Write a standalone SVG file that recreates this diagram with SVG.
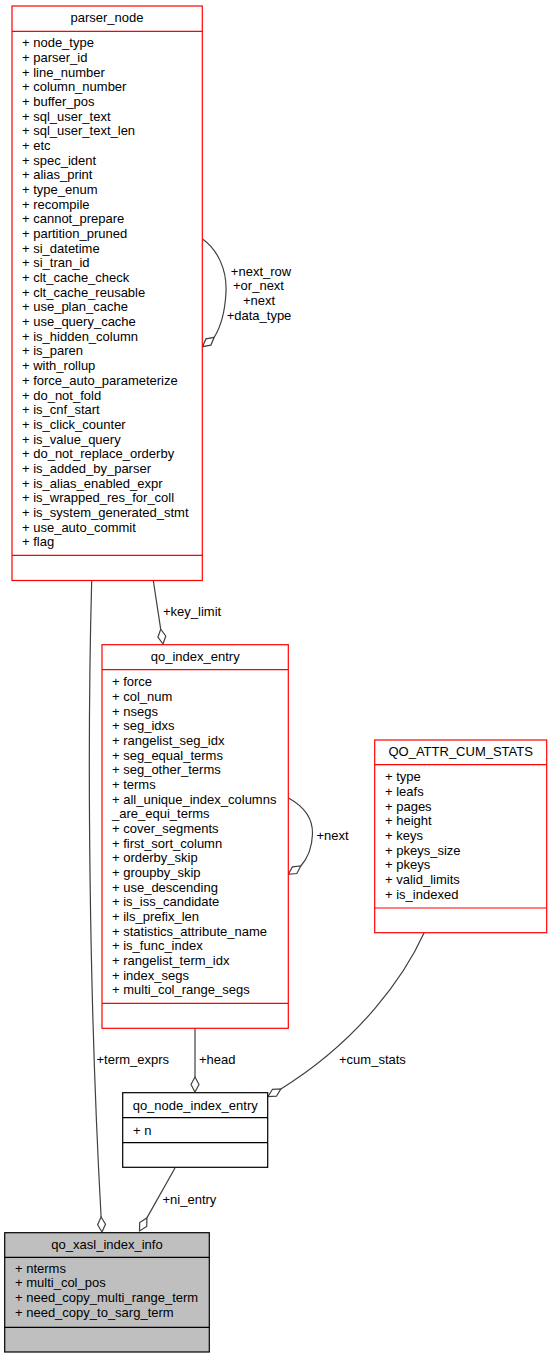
<svg xmlns="http://www.w3.org/2000/svg" width="552" height="1359" viewBox="0 0 552 1359">
<style>
text{font-family:"Liberation Sans",Arial,sans-serif;font-size:13px;fill:#000}
.t{text-anchor:middle}
.rbox{fill:#fff;stroke:#ff0000;stroke-width:1.2}
.rsep{stroke:#ff0000;stroke-width:1.2}
.kbox{fill:#fff;stroke:#000;stroke-width:1.2}
.gbox{fill:#bfbfbf;stroke:#000;stroke-width:1.2}
.ksep{stroke:#000;stroke-width:1.2}
.e{fill:none;stroke:#404040;stroke-width:1.2}
.d{fill:#fff;stroke:#404040;stroke-width:1.2}
</style>
<rect width="552" height="1359" fill="#fff"/>
<g id="edges">
<path class="e" d="M202.5,239 C218,250 227,270 226,292 C225,312 220,328 214.2,337.3"/>
<polygon class="d" points="202.5,346.7 205.9,338.9 214.2,337.3 210.9,345.1"/>
<text class="t" x="261" y="276">+next_row</text>
<text class="t" x="258.5" y="290">+or_next</text>
<text class="t" x="259" y="304.5">+next</text>
<text class="t" x="259" y="319.5">+data_type</text>

<path class="e" d="M153.3,580.5 L160.7,629.2"/>
<polygon class="d" points="163,644 157.9,637.2 160.7,629.2 165.8,636"/>
<text x="163" y="616">+key_limit</text>

<path class="e" d="M91.7,580.5 C87,750 89,1000 101.1,1217"/>
<polygon class="d" points="102,1232 97.6,1224.7 101.1,1217 105.5,1224.3"/>
<text x="96.5" y="1063.5">+term_exprs</text>

<path class="e" d="M288.5,798 C303,806 313,818 312.5,834 C312,849 307,859 300.8,866"/>
<polygon class="d" points="288.3,874.3 292.4,866.9 300.8,866 296.8,873.5"/>
<text x="316.5" y="840">+next</text>

<path class="e" d="M195,1028.5 L195,1077"/>
<polygon class="d" points="195,1092 191,1084.5 195,1077 199,1084.5"/>
<text x="199" y="1063.5">+head</text>

<path class="e" d="M424,933 C405,975 360,1040 280.9,1088.9"/>
<polygon class="d" points="268,1096.5 272.5,1089.3 280.9,1088.9 276.5,1096.2"/>
<text x="339" y="1063.5">+cum_stats</text>

<path class="e" d="M175,1168 L146.9,1217.9"/>
<polygon class="d" points="139.5,1231 139.7,1222.5 146.9,1217.9 146.7,1226.5"/>
<text x="162.5" y="1204">+ni_entry</text>
</g>

<g id="parser_node">
<rect class="rbox" x="12" y="6" width="190.3" height="574.5"/>
<line class="rsep" x1="12" y1="31.3" x2="202.3" y2="31.3"/>
<line class="rsep" x1="12" y1="555.3" x2="202.3" y2="555.3"/>
<text class="t" x="107" y="22">parser_node</text>
<text x="22" y="47.2"><tspan x="22">+ node_type</tspan><tspan x="22" dy="14.68">+ parser_id</tspan><tspan x="22" dy="14.68">+ line_number</tspan><tspan x="22" dy="14.68">+ column_number</tspan><tspan x="22" dy="14.68">+ buffer_pos</tspan><tspan x="22" dy="14.68">+ sql_user_text</tspan><tspan x="22" dy="14.68">+ sql_user_text_len</tspan><tspan x="22" dy="14.68">+ etc</tspan><tspan x="22" dy="14.68">+ spec_ident</tspan><tspan x="22" dy="14.68">+ alias_print</tspan><tspan x="22" dy="14.68">+ type_enum</tspan><tspan x="22" dy="14.68">+ recompile</tspan><tspan x="22" dy="14.68">+ cannot_prepare</tspan><tspan x="22" dy="14.68">+ partition_pruned</tspan><tspan x="22" dy="14.68">+ si_datetime</tspan><tspan x="22" dy="14.68">+ si_tran_id</tspan><tspan x="22" dy="14.68">+ clt_cache_check</tspan><tspan x="22" dy="14.68">+ clt_cache_reusable</tspan><tspan x="22" dy="14.68">+ use_plan_cache</tspan><tspan x="22" dy="14.68">+ use_query_cache</tspan><tspan x="22" dy="14.68">+ is_hidden_column</tspan><tspan x="22" dy="14.68">+ is_paren</tspan><tspan x="22" dy="14.68">+ with_rollup</tspan><tspan x="22" dy="14.68">+ force_auto_parameterize</tspan><tspan x="22" dy="14.68">+ do_not_fold</tspan><tspan x="22" dy="14.68">+ is_cnf_start</tspan><tspan x="22" dy="14.68">+ is_click_counter</tspan><tspan x="22" dy="14.68">+ is_value_query</tspan><tspan x="22" dy="14.68">+ do_not_replace_orderby</tspan><tspan x="22" dy="14.68">+ is_added_by_parser</tspan><tspan x="22" dy="14.68">+ is_alias_enabled_expr</tspan><tspan x="22" dy="14.68">+ is_wrapped_res_for_coll</tspan><tspan x="22" dy="14.68">+ is_system_generated_stmt</tspan><tspan x="22" dy="14.68">+ use_auto_commit</tspan><tspan x="22" dy="14.68">+ flag</tspan></text>
</g>

<g id="qo_index_entry">
<rect class="rbox" x="102" y="644.7" width="186.3" height="383.6"/>
<line class="rsep" x1="102" y1="669.7" x2="288.3" y2="669.7"/>
<line class="rsep" x1="102" y1="1003.3" x2="288.3" y2="1003.3"/>
<text class="t" x="195.2" y="661.2">qo_index_entry</text>
<text x="112" y="686.2"><tspan x="112">+ force</tspan><tspan x="112" dy="14.67">+ col_num</tspan><tspan x="112" dy="14.67">+ nsegs</tspan><tspan x="112" dy="14.67">+ seg_idxs</tspan><tspan x="112" dy="14.67">+ rangelist_seg_idx</tspan><tspan x="112" dy="14.67">+ seg_equal_terms</tspan><tspan x="112" dy="14.67">+ seg_other_terms</tspan><tspan x="112" dy="14.67">+ terms</tspan><tspan x="112" dy="14.67">+ all_unique_index_columns</tspan><tspan x="112" dy="14.67">_are_equi_terms</tspan><tspan x="112" dy="14.67">+ cover_segments</tspan><tspan x="112" dy="14.67">+ first_sort_column</tspan><tspan x="112" dy="14.67">+ orderby_skip</tspan><tspan x="112" dy="14.67">+ groupby_skip</tspan><tspan x="112" dy="14.67">+ use_descending</tspan><tspan x="112" dy="14.67">+ is_iss_candidate</tspan><tspan x="112" dy="14.67">+ ils_prefix_len</tspan><tspan x="112" dy="14.67">+ statistics_attribute_name</tspan><tspan x="112" dy="14.67">+ is_func_index</tspan><tspan x="112" dy="14.67">+ rangelist_term_idx</tspan><tspan x="112" dy="14.67">+ index_segs</tspan><tspan x="112" dy="14.67">+ multi_col_range_segs</tspan></text>
</g>

<g id="QO_ATTR_CUM_STATS">
<rect class="rbox" x="374.7" y="740" width="172" height="192.7"/>
<line class="rsep" x1="374.7" y1="764.7" x2="546.7" y2="764.7"/>
<line class="rsep" x1="374.7" y1="908" x2="546.7" y2="908"/>
<text class="t" x="460.7" y="755.8">QO_ATTR_CUM_STATS</text>
<text x="385" y="781.2"><tspan x="385">+ type</tspan><tspan x="385" dy="14.67">+ leafs</tspan><tspan x="385" dy="14.67">+ pages</tspan><tspan x="385" dy="14.67">+ height</tspan><tspan x="385" dy="14.67">+ keys</tspan><tspan x="385" dy="14.67">+ pkeys_size</tspan><tspan x="385" dy="14.67">+ pkeys</tspan><tspan x="385" dy="14.67">+ valid_limits</tspan><tspan x="385" dy="14.67">+ is_indexed</tspan></text>
</g>

<g id="qo_node_index_entry">
<rect class="kbox" x="122.7" y="1092.7" width="145" height="74.6"/>
<line class="ksep" x1="122.7" y1="1117.7" x2="267.7" y2="1117.7"/>
<line class="ksep" x1="122.7" y1="1142.7" x2="267.7" y2="1142.7"/>
<text class="t" x="195.2" y="1109.5">qo_node_index_entry</text>
<text x="133" y="1134.5">+ n</text>
</g>

<g id="qo_xasl_index_info">
<rect class="gbox" x="4.7" y="1232.7" width="204.6" height="119.3"/>
<line class="ksep" x1="4.7" y1="1257.3" x2="209.3" y2="1257.3"/>
<line class="ksep" x1="4.7" y1="1327.3" x2="209.3" y2="1327.3"/>
<text class="t" x="107" y="1249.2">qo_xasl_index_info</text>
<text x="15" y="1272.8"><tspan x="15">+ nterms</tspan><tspan x="15" dy="14.67">+ multi_col_pos</tspan><tspan x="15" dy="14.67">+ need_copy_multi_range_term</tspan><tspan x="15" dy="14.67">+ need_copy_to_sarg_term</tspan></text>
</g>
</svg>
